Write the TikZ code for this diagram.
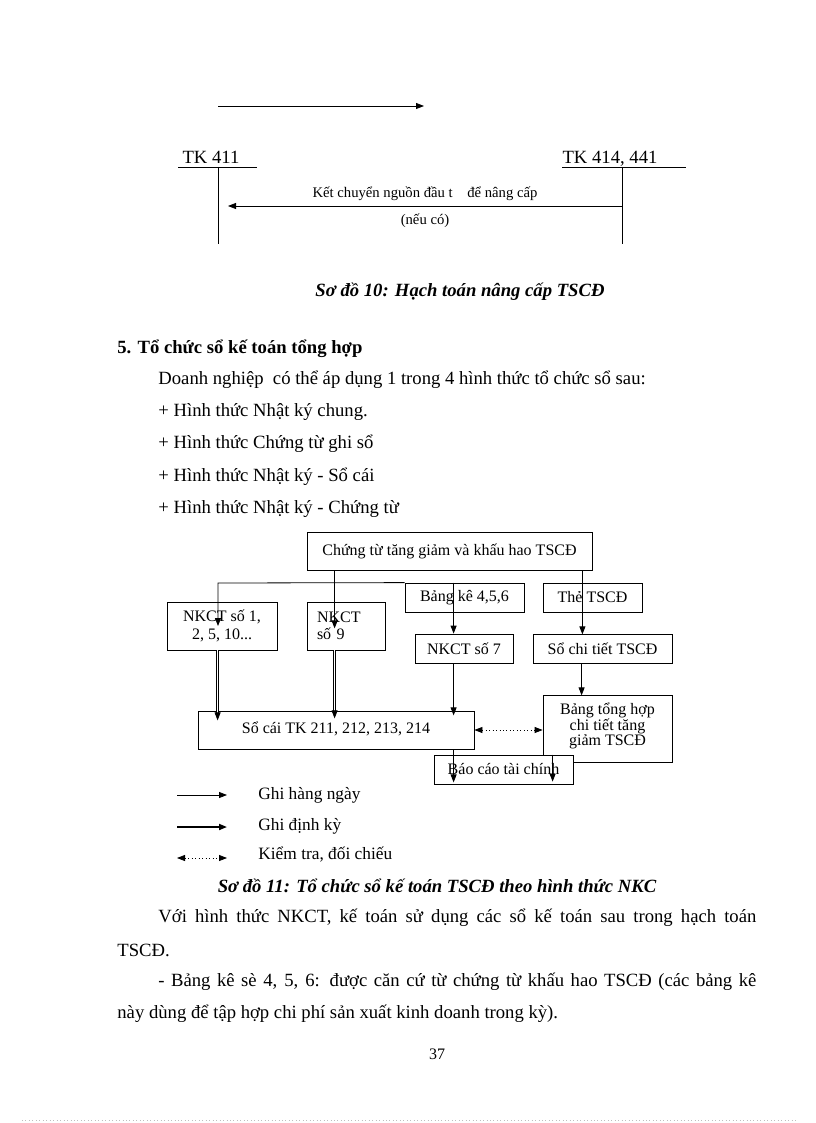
\documentclass[tikz,border=0pt]{standalone}
\usepackage{fontspec}
\setmainfont{Liberation Serif}
\usetikzlibrary{arrows.meta,positioning}

\begin{document}
\begin{tikzpicture}[x=0.75pt, y=-0.75pt, line width=0.6pt,
    >={Triangle[length=6pt,width=4.5pt]},
    box/.style={draw, fill=white, inner sep=2pt, align=center,
      font=\fontsize{12}{13}\selectfont},
    body/.style={anchor=west, inner sep=0pt, font=\fontsize{14}{16}\selectfont},
    capt/.style={inner sep=0pt, font=\fontsize{14}{16}\selectfont\bfseries\itshape},
    lbl/.style={font=\fontsize{11}{13}\selectfont},
    acct/.style={anchor=base, inner sep=0pt, font=\fontsize{14}{16}\selectfont},
    dinhky/.style={double, double distance=0.9pt, line width=0.5pt},
    legend/.style={anchor=west, inner sep=0pt, font=\fontsize{13}{15}\selectfont}]
  \useasboundingbox (0,0) rectangle (816,1123);

  % so do 10
  \coordinate (TOPA) at (218,106);
  \coordinate (TOPB) at (424,106);
  \draw[->] (TOPA) -- (TOPB);

  \node[acct] (TK411) at (211,164) {TK 411};
  \draw (178,167) -- (257,167);
  \draw (218,167) -- (218,244);
  \node[acct] (TK414) at (610,164) {TK 414, 441};
  \draw (562,167) -- (686,167);
  \draw (622,167) -- (622,244);
  \coordinate (KCA) at (622,206);
  \coordinate (KCB) at (228,206);
  \draw[->] (KCA) -- (KCB)
    node[lbl, midway, above=0pt] {Kết chuyển nguồn đầu t\quad để nâng cấp}
    node[lbl, midway, below=2pt] {(nếu có)};

  \node[capt] (CAP10) at (460,292) {Sơ đồ 10: Hạch toán nâng cấp TSCĐ};

  % muc 5
  \node[body, font=\fontsize{14}{16}\selectfont\bfseries] (H5) at (117,349) {5. Tổ chức sổ kế toán tổng hợp};
  \node[body] (L1) at (158,380) {Doanh nghiệp\ \ có thể áp dụng 1 trong 4 hình thức tổ chức sổ sau:};
  \node[body] (L2) at (158,412) {+ Hình thức Nhật ký chung.};
  \node[body] (L3) at (158,444) {+ Hình thức Chứng từ ghi sổ};
  \node[body] (L4) at (158,477) {+ Hình thức Nhật ký - Sổ cái};
  \node[body] (L5) at (158,509) {+ Hình thức Nhật ký - Chứng từ};

  % so do 11
  \node[box, minimum width=213.75pt, minimum height=28.5pt] (CT) at (449.5,551)
    {Chứng từ tăng giảm và khấu hao TSCĐ};
  \node[box, minimum width=82.5pt, minimum height=36pt] (NK1) at (222,626)
    {NKCT số 1,\\2, 5, 10...};
  \node[box, minimum width=58.5pt, minimum height=36pt, inner xsep=7.5pt,
    text width=43.5pt, align=left] (NK9) at (346,626) {NKCT\\số 9};
  \node[box, minimum width=89.25pt, minimum height=21.75pt] (BK) at (464.5,597.5) {Bảng kê 4,5,6};
  \node[box, minimum width=74.25pt, minimum height=21.75pt] (THE) at (592.5,597.5) {Thẻ TSCĐ};
  \node[box, minimum width=73.5pt, minimum height=21.75pt] (NK7) at (464,648.5) {NKCT số 7};
  \node[box, minimum width=104.25pt, minimum height=21.75pt] (SCT) at (602.5,648.5) {Sổ chi tiết TSCĐ};
  \node[box, minimum width=207pt, minimum height=28.5pt] (SC) at (336,730)
    {\raisebox{4pt}{Sổ cái TK 211, 212, 213, 214}};
  \node[box, minimum width=96.75pt, minimum height=50.25pt, font=\fontsize{12}{11}\selectfont]
    (BTH) at (607.5,728.5) {Bảng tổng hợp\\chi tiết tăng\\giảm TSCĐ\\[-4pt]};
  \node[box, minimum width=104.25pt, minimum height=21.75pt] (BC) at (503.5,769.5) {Báo cáo tài chính};

  \coordinate (NGA) at (218,583);
  \draw[->] (BK.north west) -- (NGA) -- (NGA |- NK1.center);
  \draw[->] (CT.south west) ++(28,0) -- ++(0,58);
  \draw[->] (BK.north west) ++(49,0) -- ++(0,51);
  \draw[->] (CT.south east) ++(-10,0) -- ++(0,64);
  \draw[->] (SCT.south west) ++(49,0) -- ++(0,32);
  \draw[->] (NK7.south west) ++(39,0) -- ++(0,52);
  \draw[dinhky, ->] (NK1.south west) ++(51,0) -- ++(0,70);
  \draw[dinhky, ->] (NK9.south west) ++(28,0) -- ++(0,68);
  \draw[dotted, <->] (SC.east) -- (BTH.west |- SC.east);
  \draw[->] (SC.south west) ++(256,0) -- ++(0,33);
  \draw[->] (BC.north west) ++(119,0) -- ++(0,27);

  % chu thich
  \node[legend] (G1) at (258,795) {Ghi hàng ngày};
  \node[legend] (G2) at (258,826) {Ghi định kỳ};
  \node[legend] (G3) at (258,855) {Kiểm tra, đối chiếu};
  \draw[->] (G1.west) ++(-81,0) -- ++(50,0);
  \draw[->, line width=1.3pt] (G2.west) ++(-81,1) -- ++(50,0);
  \draw[dotted, <->] (G3.west) ++(-81,3) -- ++(50,0);

  \node[capt] (CAP11) at (437,886) {Sơ đồ 11: Tổ chức sổ kế toán TSCĐ theo hình thức NKC};

  \node[body] (P1) at (158,918)
    {\makebox[448.5pt][s]{Với hình thức NKCT, kế toán sử dụng các sổ kế toán sau trong hạch toán}};
  \node[body] (P2) at (117,950) {TSCĐ.};
  \node[body] (P3) at (158,982)
    {\makebox[448.5pt][s]{- Bảng kê sè 4, 5, 6: được căn cứ từ chứng từ khấu hao TSCĐ (các bảng kê}};
  \node[body] (P4) at (117,1014) {này dùng để tập hợp chi phí sản xuất kinh doanh trong kỳ).};

  \node[inner sep=0pt, font=\fontsize{12}{14}\selectfont] (PAGE) at (437,1054) {37};
  \draw[gray!50, dotted] (22,1120) -- (796,1120);
\end{tikzpicture}
\end{document}
